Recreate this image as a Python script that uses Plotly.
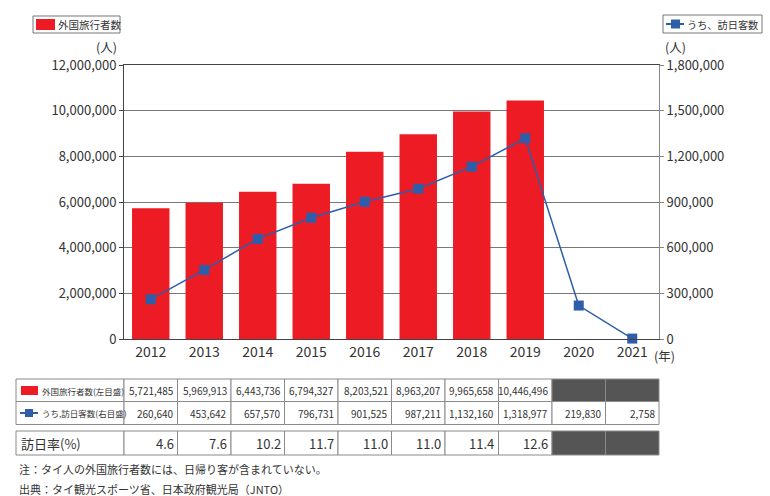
import plotly.graph_objects as go

years = ["2012", "2013", "2014", "2015", "2016", "2017", "2018", "2019", "2020", "2021"]
outbound = [5721485, 5969913, 6443736, 6794327, 8203521, 8963207, 9965658, 10446496, None, None]
to_japan = [260640, 453642, 657570, 796731, 901525, 987211, 1132160, 1318977, 219830, 2758]
rate = [4.6, 7.6, 10.2, 11.7, 11.0, 11.0, 11.4, 12.6, None, None]

bar_name = "外国旅行者数"
line_name = "うち、訪日客数"
row_labels = ["外国旅行者数(左目盛)", "うち,訪日客数(右目盛)", "訪日率(%)"]
notes = ["注：タイ人の外国旅行者数には、日帰り客が含まれていない。",
         "出典：タイ観光スポーツ省、日本政府観光局（JNTO）"]

RED = "#ED1C24"
BLUE = "#2E5EAA"
TXT = "#333333"
FONT = "Noto Sans CJK JP"

W, H = 770, 496
ML, MR, MT, MB = 124, 111, 65, 157
PW = W - ML - MR
PH = H - MT - MB


def px(x):
    return (x - ML) / PW


def py(y):
    return (H - MB - y) / PH


xs = list(range(len(years)))

fig = go.Figure()
fig.add_trace(go.Bar(x=xs, y=outbound, name=bar_name, marker_color=RED,
                     marker_line_width=0, width=0.7, showlegend=False))
fig.add_trace(go.Scatter(x=xs, y=to_japan, name=line_name, yaxis="y2", mode="lines+markers",
                         line=dict(color=BLUE, width=1.5),
                         marker=dict(symbol="square", size=10, color=BLUE),
                         showlegend=False, cliponaxis=False))

shapes = []
ann = []

# Legend boxes
shapes.append(dict(type="rect", xref="paper", yref="paper", x0=px(33), x1=px(120), y0=py(16), y1=py(33),
                   line=dict(color="#777", width=1), fillcolor="white"))
shapes.append(dict(type="rect", xref="paper", yref="paper", x0=px(36), x1=px(55), y0=py(19), y1=py(30),
                   line=dict(width=0), fillcolor=RED))
ann.append(dict(text=bar_name, xref="paper", yref="paper", x=px(56), y=py(24.5), xanchor="left",
                yanchor="middle", showarrow=False, font=dict(size=10.5, color=TXT)))

shapes.append(dict(type="rect", xref="paper", yref="paper", x0=px(663), x1=px(762), y0=py(15), y1=py(33),
                   line=dict(color="#777", width=1), fillcolor="white"))
shapes.append(dict(type="line", xref="paper", yref="paper", x0=px(666), x1=px(684), y0=py(24), y1=py(24),
                   line=dict(color=BLUE, width=2)))
shapes.append(dict(type="rect", xref="paper", yref="paper", x0=px(671), x1=px(680), y0=py(19.5), y1=py(28.5),
                   line=dict(width=0), fillcolor=BLUE))
ann.append(dict(text=line_name, xref="paper", yref="paper", x=px(685), y=py(24), xanchor="left",
                yanchor="middle", showarrow=False, font=dict(size=10.2, color=TXT)))

# unit labels
ann.append(dict(text="(人)", xref="paper", yref="paper", x=px(119), y=py(47), xanchor="right",
                yanchor="middle", showarrow=False, font=dict(size=12.5, color=TXT)))
ann.append(dict(text="(人)", xref="paper", yref="paper", x=px(663), y=py(47), xanchor="left",
                yanchor="middle", showarrow=False, font=dict(size=12.5, color=TXT)))
ann.append(dict(text="(年)", xref="paper", yref="paper", x=px(653), y=py(345), xanchor="left",
                yanchor="top", showarrow=False, borderpad=0, font=dict(size=12.5, color=TXT)))

# Table
rows_y = [(379, 401.5), (401.5, 424.5), (431, 455)]
row_vals = [outbound, to_japan, rate]
BORDER = "#8a8a8a"
DARK = "#555555"
for r, (ya, yb) in enumerate(rows_y):
    shapes.append(dict(type="rect", xref="paper", yref="paper", x0=px(16), x1=0, y0=py(ya), y1=py(yb),
                       line=dict(color=BORDER, width=1), fillcolor="white"))
    for i, v in enumerate(row_vals[r]):
        x0 = i / len(years)
        x1 = (i + 1) / len(years)
        shapes.append(dict(type="rect", xref="paper", yref="paper", x0=x0, x1=x1, y0=py(ya), y1=py(yb),
                           line=dict(color=BORDER, width=1), fillcolor=DARK if v is None else "white"))
        if v is not None:
            txt = f"{v:.1f}" if r == 2 else f"{v:,}"
            ann.append(dict(text=txt, xref="paper", yref="paper", x=x1 - 2 / PW, y=py((ya + yb) / 2),
                            xanchor="right", yanchor="middle", showarrow=False,
                            font=dict(size=13 if r == 2 else 10, color=TXT)))

# row labels
shapes.append(dict(type="rect", xref="paper", yref="paper", x0=px(21), x1=px(38), y0=py(386), y1=py(395),
                   line=dict(width=0), fillcolor=RED))
shapes.append(dict(type="line", xref="paper", yref="paper", x0=px(20), x1=px(38), y0=py(413), y1=py(413),
                   line=dict(color=BLUE, width=2)))
shapes.append(dict(type="rect", xref="paper", yref="paper", x0=px(25), x1=px(33), y0=py(409), y1=py(417),
                   line=dict(width=0), fillcolor=BLUE))
ann.append(dict(text=row_labels[0], xref="paper", yref="paper", x=px(40), y=py(390.5), xanchor="left",
                yanchor="middle", showarrow=False, font=dict(size=8.5, color=TXT)))
ann.append(dict(text=row_labels[1], xref="paper", yref="paper", x=px(40), y=py(413), xanchor="left",
                yanchor="middle", showarrow=False, font=dict(size=8.5, color=TXT)))
ann.append(dict(text=row_labels[2], xref="paper", yref="paper", x=px(19), y=py(443), xanchor="left",
                yanchor="middle", showarrow=False, font=dict(size=13, color=TXT)))

# notes
for k, t in enumerate(notes):
    ann.append(dict(text=t, xref="paper", yref="paper", x=px(17), y=py(469 + 20 * k), xanchor="left",
                    yanchor="middle", showarrow=False, font=dict(size=11, color=TXT)))

fig.update_layout(
    width=W, height=H,
    margin=dict(l=ML, r=MR, t=MT, b=MB, pad=0),
    paper_bgcolor="white", plot_bgcolor="white",
    font=dict(family=FONT, color=TXT),
    bargap=0.3,
    shapes=shapes, annotations=ann,
    xaxis=dict(range=[-0.5, 9.5], tickvals=xs, ticktext=years, showgrid=False, zeroline=False,
               showline=True, linecolor="#444", linewidth=1, mirror=True, ticks="",
               tickfont=dict(size=14, color=TXT), fixedrange=True),
    yaxis=dict(range=[0, 12000000], dtick=2000000, tickformat=",", showgrid=True, gridcolor="#777",
               gridwidth=1, zeroline=False, showline=True, linecolor="#444", linewidth=1,
               ticks="outside", ticklen=4, tickcolor="#444", tickfont=dict(size=13, color=TXT)),
    yaxis2=dict(range=[0, 1800000], dtick=300000, tickformat=",", overlaying="y", side="right",
                showgrid=False, zeroline=False, showline=True, linecolor="#888", linewidth=1,
                ticks="outside", ticklen=4, tickcolor="#888", tickfont=dict(size=13, color=TXT)),
)

fig.write_html("out.html", config={"displayModeBar": False},
               post_script="document.body.style.margin='0';document.body.style.overflow='hidden';")
